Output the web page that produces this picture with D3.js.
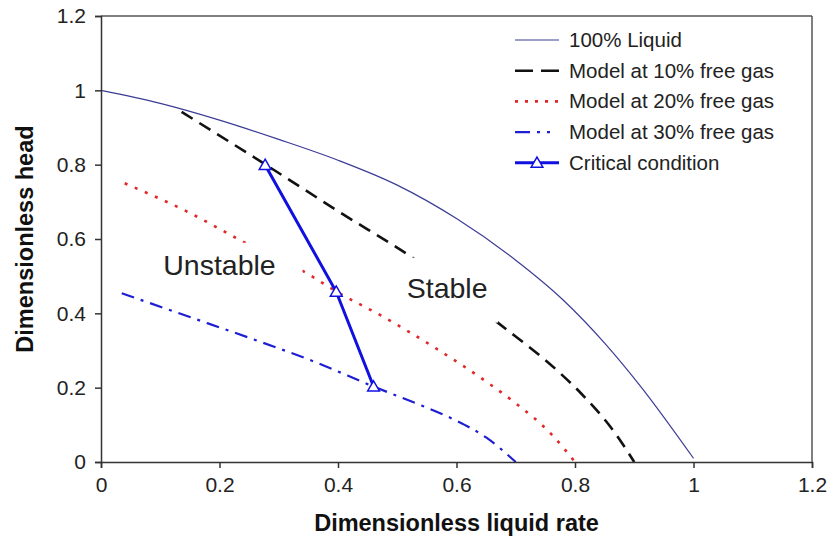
<!DOCTYPE html>
<html>
<head>
<meta charset="utf-8">
<script src="https://cdn.jsdelivr.net/npm/d3@7"></script>
<style>
  body { margin: 0; background: #fff; }
  svg text { font-family: "Liberation Sans", Arial, sans-serif; }
</style>
</head>
<body>
<svg id="chart" width="832" height="541"></svg>
<script>
// values (x = dimensionless liquid rate, y = dimensionless head)
var liquidX = [0, 0.1, 0.2, 0.3, 0.4, 0.5, 0.6, 0.7, 0.78, 0.85, 0.91, 1.0];
var liquidY = [1.0, 0.965, 0.92, 0.868, 0.812, 0.745, 0.655, 0.543, 0.436, 0.32, 0.205, 0.01];

var gas10X = [0.136, 0.274, 0.4, 0.539, 0.668, 0.775, 0.81, 0.868, 0.9];
var gas10Y = [0.942, 0.804, 0.675, 0.535, 0.377, 0.239, 0.185, 0.077, 0.0];

var gas20X = [0.04, 0.15, 0.243, 0.347, 0.398, 0.476, 0.561, 0.662, 0.70, 0.76, 0.8];
var gas20Y = [0.75, 0.67, 0.59, 0.508, 0.458, 0.391, 0.31, 0.203, 0.158, 0.075, 0.0];

var gas30X = [0.035, 0.15, 0.252, 0.36, 0.46, 0.55, 0.6, 0.65, 0.7];
var gas30Y = [0.454, 0.39, 0.333, 0.27, 0.203, 0.146, 0.111, 0.066, 0.0];

var critX = [0.277, 0.397, 0.46];
var critY = [0.799, 0.458, 0.203];

var xTicks = [0, 0.2, 0.4, 0.6, 0.8, 1, 1.2];
var yTicks = [0, 0.2, 0.4, 0.6, 0.8, 1, 1.2];

var legendLabels = ["100% Liquid", "Model at 10% free gas", "Model at 20% free gas", "Model at 30% free gas", "Critical condition"];

var svg = d3.select("#chart");
var margin = {top: 16, right: 20, bottom: 79, left: 101},
    width = 832 - margin.left - margin.right,
    height = 541 - margin.top - margin.bottom;

var g = svg.append("g").attr("transform", "translate(" + margin.left + "," + margin.top + ")");

var x = d3.scaleLinear().domain([0, 1.2]).range([0, width]);
var y = d3.scaleLinear().domain([0, 1.2]).range([height, 0]);

var line = d3.line().x(d => x(d[0])).y(d => y(d[1]));
var smooth = d3.line().x(d => x(d[0])).y(d => y(d[1])).curve(d3.curveMonotoneX);

function pts(xs, ys) { return xs.map((v, i) => [v, ys[i]]); }

// series styles (legDash = pattern used for the short legend sample)
var series = [
  {xs: liquidX, ys: liquidY, color: "#3c3c96", w: 1.2, dash: null, legDash: null},
  {xs: gas10X, ys: gas10Y, color: "#111", w: 2.6, dash: "13,8", legDash: "18,8"},
  {xs: gas20X, ys: gas20Y, color: "#e02828", w: 2.6, dash: "3,8", legDash: "3,7"},
  {xs: gas30X, ys: gas30Y, color: "#1e1ed2", w: 2.2, dash: "13,7,3,7", legDash: "15,7,3,7,3,10"}
];

series.forEach(s => {
  g.append("path")
    .datum(pts(s.xs, s.ys))
    .attr("d", smooth)
    .attr("fill", "none")
    .attr("stroke", s.color)
    .attr("stroke-width", s.w)
    .attr("stroke-dasharray", s.dash);
});

// region labels sit on white boxes that cover the curves below them
var regionLabels = [
  {text: "Unstable", x: 0.105, y: 0.503, box: [0.09, 0.34, 0.59, 0.48]},
  {text: "Stable", x: 0.516, y: 0.441, box: [0.52, 0.67, 0.55, 0.375]}
];
regionLabels.forEach(r => {
  g.append("rect")
    .attr("x", x(r.box[0])).attr("y", y(r.box[2]))
    .attr("width", x(r.box[1]) - x(r.box[0]))
    .attr("height", y(r.box[3]) - y(r.box[2]))
    .attr("fill", "#fff");
  g.append("text")
    .attr("x", x(r.x)).attr("y", y(r.y))
    .attr("font-size", 28.5)
    .attr("fill", "#222")
    .text(r.text);
});

// critical condition
g.append("path")
  .datum(pts(critX, critY))
  .attr("d", line)
  .attr("fill", "none")
  .attr("stroke", "#1010e0")
  .attr("stroke-width", 3);

var tri = d3.symbol().type(d3.symbolTriangle).size(60);
g.selectAll(".tri")
  .data(pts(critX, critY))
  .enter().append("path")
    .attr("class", "tri")
    .attr("d", tri)
    .attr("transform", d => "translate(" + x(d[0]) + "," + (y(d[1]) + 1) + ")")
    .attr("fill", "#fff")
    .attr("stroke", "#1010e0")
    .attr("stroke-width", 1.5);

// frame (top and right)
g.append("line").attr("x1", 0).attr("x2", width).attr("y1", 0).attr("y2", 0)
  .attr("stroke", "#555").attr("stroke-width", 1.5);
g.append("line").attr("x1", width).attr("x2", width).attr("y1", 0).attr("y2", height)
  .attr("stroke", "#555").attr("stroke-width", 1.5);

// axes
var xAxis = g.append("g").attr("transform", "translate(0," + height + ")")
  .call(d3.axisBottom(x).tickValues(xTicks).tickFormat(d3.format("")).tickSize(6).tickPadding(9));
var yAxis = g.append("g")
  .call(d3.axisLeft(y).tickValues(yTicks).tickFormat(d3.format("")).tickSize(6).tickPadding(9));

[xAxis, yAxis].forEach(a => {
  a.select(".domain").attr("stroke", "#333").attr("stroke-width", 1.5);
  a.selectAll(".tick line").attr("stroke", "#333").attr("stroke-width", 1.5);
  a.selectAll(".tick text").attr("font-size", 21).attr("fill", "#222")
    .style("font-family", "'Liberation Sans', Arial, sans-serif");
});

// axis titles
svg.append("text")
  .attr("x", margin.left + width / 2).attr("y", 531)
  .attr("text-anchor", "middle")
  .attr("font-size", 23.5).attr("font-weight", "bold").attr("fill", "#111")
  .text("Dimensionless liquid rate");
svg.append("text")
  .attr("transform", "translate(33," + (margin.top + height / 2) + ") rotate(-90)")
  .attr("text-anchor", "middle")
  .attr("font-size", 23.5).attr("font-weight", "bold").attr("fill", "#111")
  .text("Dimensionless head");

// legend
var legend = svg.append("g").attr("transform", "translate(515,40)");
legendLabels.forEach((lab, i) => {
  var row = legend.append("g").attr("transform", "translate(0," + (i * 30.7) + ")");
  var s = series[i];
  if (s) {
    row.append("line").attr("x1", 0).attr("x2", 44).attr("y1", 0).attr("y2", 0)
      .attr("stroke", s.color).attr("stroke-width", s.w)
      .attr("stroke-dasharray", s.legDash);
  } else {
    row.append("line").attr("x1", 0).attr("x2", 44).attr("y1", 0).attr("y2", 0)
      .attr("stroke", "#1010e0").attr("stroke-width", 3);
    row.append("path").attr("d", tri).attr("transform", "translate(22,1)")
      .attr("fill", "#fff").attr("stroke", "#1010e0").attr("stroke-width", 1.5);
  }
  row.append("text").attr("x", 54).attr("y", 7)
    .attr("font-size", 20.5).attr("fill", "#222").text(lab);
});
</script>
</body>
</html>
